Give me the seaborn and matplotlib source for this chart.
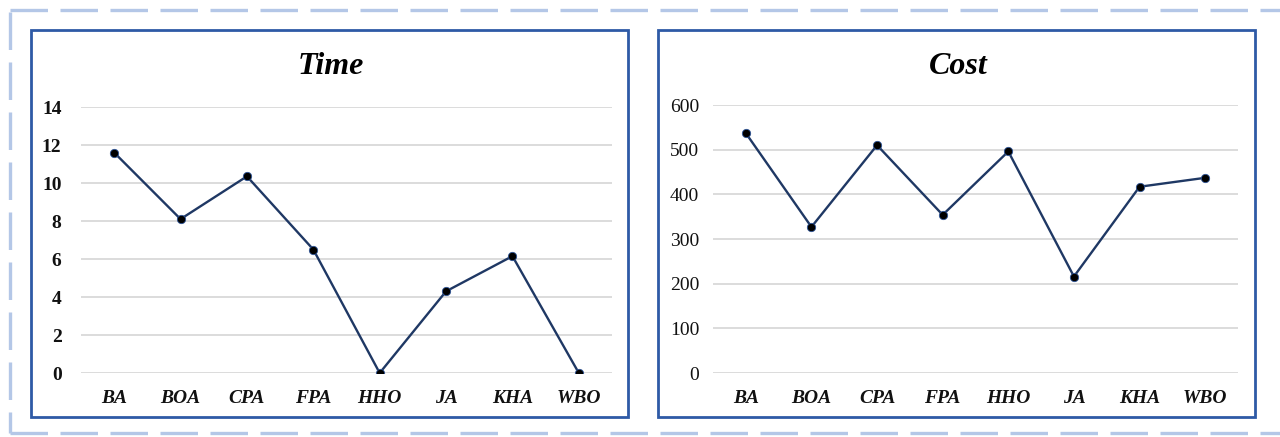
import matplotlib
matplotlib.use("Agg")
import matplotlib.pyplot as plt
from matplotlib.patches import Rectangle
from matplotlib.lines import Line2D
import seaborn as sns

# Data
algorithms = ["BA", "BOA", "CPA", "FPA", "HHO", "JA", "KHA", "WBO"]
time_values = [11.6, 8.1, 10.35, 6.5, 0.0, 4.3, 6.15, 0.0]
cost_values = [537, 327, 510, 354, 496, 216, 417, 437]
time_ticks = [0, 2, 4, 6, 8, 10, 12, 14]
cost_ticks = [0, 100, 200, 300, 400, 500, 600]

sns.set_theme(style="white")
plt.rcParams["font.family"] = ["Liberation Serif", "DejaVu Serif"]
plt.rcParams["lines.scale_dashes"] = False

W, H = 1280, 437
fig = plt.figure(figsize=(W / 100, H / 100), dpi=100)
fig.patch.set_facecolor("white")

LINE_COLOR = "#1F3864"
FRAME_COLOR = "#2E5AA6"
GRID_COLOR = "#D9D9D9"
DASH_COLOR = "#B4C7E7"


def fx(px):
    return px / W


def fy(py):
    return 1 - py / H


# Outer dashed border
for xs, ys in [((10, 1280), (10, 10)), ((10, 10), (12, 433)), ((10, 1280), (433, 433))]:
    fig.add_artist(Line2D([fx(x) for x in xs], [fy(y) for y in ys],
                          transform=fig.transFigure, color=DASH_COLOR,
                          lw=2.4, dashes=(27, 9), solid_capstyle="butt"))

# Panel frames
for x0, x1 in [(31, 628), (658, 1255)]:
    fig.add_artist(Rectangle((fx(x0), fy(417)), fx(x1) - fx(x0), fy(30) - fy(417),
                             transform=fig.transFigure, fill=False,
                             edgecolor=FRAME_COLOR, lw=2.0))

panels = [
    dict(rect=(81, 612, 107, 373), values=time_values, ticks=time_ticks,
         title="Time", tcx=331, ypad=14, yweight="bold"),
    dict(rect=(713, 1238, 105, 373), values=cost_values, ticks=cost_ticks,
         title="Cost", tcx=958, ypad=10, yweight="normal"),
]

for p in panels:
    x0, x1, ytop, ybot = p["rect"]
    ax = fig.add_axes([fx(x0), fy(ybot), fx(x1) - fx(x0), fy(ytop) - fy(ybot)])
    sns.lineplot(x=algorithms, y=p["values"], ax=ax, sort=False,
                 color=LINE_COLOR, lw=1.7, marker="o", markersize=6,
                 markerfacecolor="black", markeredgecolor="#2F5597",
                 markeredgewidth=0.6, zorder=3)
    ax.set_xlim(-0.5, len(algorithms) - 0.5)
    ax.set_ylim(p["ticks"][0], p["ticks"][-1])
    ax.set_yticks(p["ticks"])
    ax.set_yticklabels([str(t) for t in p["ticks"]], fontsize=14,
                       fontweight=p["yweight"], color="#111111")
    ax.set_xticks(range(len(algorithms)))
    ax.set_xticklabels(algorithms, fontsize=14, fontweight="bold",
                       fontstyle="italic", color="#111111")
    ax.tick_params(axis="y", length=0, pad=p["ypad"])
    ax.tick_params(axis="x", length=0, pad=12)
    ax.grid(axis="y", color=GRID_COLOR, lw=1.3)
    ax.grid(axis="x", visible=False)
    ax.set_axisbelow(True)
    for s in ax.spines.values():
        s.set_visible(False)
    ax.set_facecolor("none")
    ax.set_xlabel("")
    ax.set_ylabel("")
    fig.text(fx(p["tcx"]), fy(66), p["title"], ha="center", va="center",
             fontsize=23, fontweight="bold", fontstyle="italic", color="black")

fig.savefig("out.png", dpi=100)
